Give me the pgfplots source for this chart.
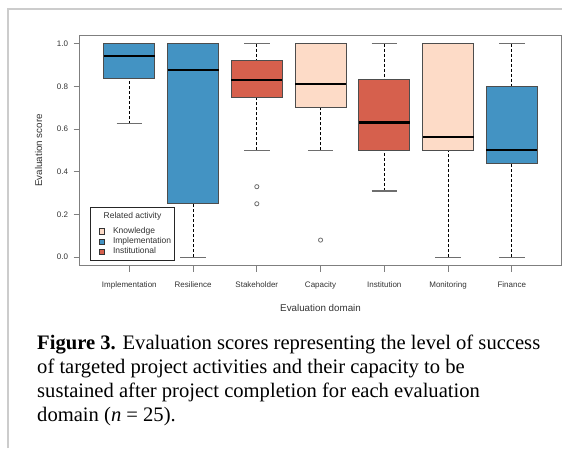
\documentclass[border=0pt]{standalone}
\usepackage{pgfplots}
\pgfplotsset{compat=1.18}
\usepgfplotslibrary{statistics}
\usepackage{fontspec}
\setmainfont{Liberation Serif}
\newfontfamily\arial{Liberation Sans}
\definecolor{peach}{HTML}{FDDBC7}
\definecolor{cblue}{HTML}{4393C3}
\definecolor{cred}{HTML}{D6604D}
\definecolor{boxedge}{HTML}{4D4D4D}
\definecolor{capgray}{HTML}{6E6E6E}
\definecolor{axgray}{HTML}{7F7F7F}
\definecolor{txtgray}{HTML}{333333}
\definecolor{framegray}{HTML}{CCCCCC}
\pgfplotsset{
  mybox/.style={
    forget plot,
    boxplot/draw direction=y,
    boxplot/box extend=0.8,
    boxplot/whisker extend=0.4,
    boxplot/every box/.style={draw=boxedge, line width=0.8pt, fill=#1},
    boxplot/every median/.style={draw=black, line width=2.2pt},
    boxplot/draw/lower whisker/.code={%
      \draw[black, line width=0.7pt, dash pattern=on 3pt off 2pt]
        (boxplot cs:\pgfplotsboxplotvalue{lower whisker}) -- (boxplot cs:\pgfplotsboxplotvalue{lower quartile});
      \draw[capgray, line width=1.2pt]
        (boxplot whisker cs:\pgfplotsboxplotvalue{lower whisker},0) -- (boxplot whisker cs:\pgfplotsboxplotvalue{lower whisker},1);
    },
    boxplot/draw/upper whisker/.code={%
      \draw[black, line width=0.7pt, dash pattern=on 3pt off 2pt]
        (boxplot cs:\pgfplotsboxplotvalue{upper whisker}) -- (boxplot cs:\pgfplotsboxplotvalue{upper quartile});
      \draw[capgray, line width=1.2pt]
        (boxplot whisker cs:\pgfplotsboxplotvalue{upper whisker},0) -- (boxplot whisker cs:\pgfplotsboxplotvalue{upper whisker},1);
    },
    mark=o, mark size=2.1pt,
    mark options={draw=capgray, line width=0.8pt, solid, fill=none},
  }
}
\newcommand{\lstrut}{\rule[-3pt]{0pt}{10.3pt}}
\begin{document}
\begin{tikzpicture}
\useasboundingbox (0,0) rectangle (562pt,-448pt);
\draw[framegray, line width=1.5pt] (8pt,-448pt) -- (8pt,-9pt) -- (562pt,-9pt);
\begin{axis}[
  at={(79.6pt,-265.7pt)}, anchor=south west,
  scale only axis, width=481.9pt, height=230.7pt,
  xmin=0.22, xmax=7.78, ymin=-0.04, ymax=1.04,
  axis line style={axgray, line width=0.8pt},
  tick style={axgray, line width=0.8pt},
  tick align=outside, major tick length=6pt,
  xtick pos=bottom, ytick pos=left,
  xtick={1,2,3,4,5,6,7},
  xticklabels={Implementation,Resilience,Stakeholder,Capacity,Institution,Monitoring,Finance},
  ytick={0,0.2,0.4,0.6,0.8,1.0},
  yticklabel style={/pgf/number format/.cd, fixed, fixed zerofill, precision=1, /tikz/xshift=-2pt},
  xticklabel style={yshift=-6pt},
  tick label style={font=\arial\fontsize{8}{9.6}\selectfont, text=txtgray, /pgf/number format/assume math mode=true},
  xlabel={Evaluation domain}, ylabel={Evaluation score},
  every axis x label/.style={at={(rel axis cs:0.5,0)}, yshift=-42pt, anchor=center, font=\arial\fontsize{9.8}{11.8}\selectfont, text=txtgray},
  every axis y label/.style={at={(rel axis cs:0,0.5)}, xshift=-41pt, rotate=90, anchor=center, font=\arial\fontsize{9.8}{11.8}\selectfont, text=txtgray},
  legend style={at={(rel axis cs:0.0208,0.253)}, anchor=north west,
    draw=black!85, line width=0.7pt, fill=white,
    font=\arial\fontsize{8.5}{10}\selectfont, text=txtgray,
    inner xsep=3.6pt, inner ysep=3.4pt, column sep=8.3pt, row sep=0pt,
    nodes={inner sep=0pt, text depth={}, text height={}}},
  legend cell align=left,
  legend image code/.code={\path (0pt,0pt); \draw[#1, draw=black!80, line width=0.6pt] (5.3pt,-2.6pt) rectangle (10.5pt,2.6pt);},
]
% Implementation
\addplot[mybox=cblue, boxplot prepared={draw position=1, lower whisker=0.625, lower quartile=0.835, median=0.94, upper quartile=1.0, upper whisker=1.0}] coordinates {};
% Resilience
\addplot[mybox=cblue, boxplot prepared={draw position=2, lower whisker=0.0, lower quartile=0.25, median=0.875, upper quartile=1.0, upper whisker=1.0}] coordinates {};
% Stakeholder
\addplot[mybox=cred, boxplot prepared={draw position=3, lower whisker=0.5, lower quartile=0.75, median=0.83, upper quartile=0.92, upper whisker=1.0}] table[row sep=\\, y index=0] {data\\ 0.33\\ 0.25\\};
% Capacity
\addplot[mybox=peach, boxplot prepared={draw position=4, lower whisker=0.5, lower quartile=0.70, median=0.81, upper quartile=1.0, upper whisker=1.0}] table[row sep=\\, y index=0] {data\\ 0.08\\};
% Institution
\addplot[mybox=cred, boxplot prepared={draw position=5, lower whisker=0.31, lower quartile=0.5, median=0.63, upper quartile=0.83, upper whisker=1.0}] coordinates {};
% Monitoring
\addplot[mybox=peach, boxplot prepared={draw position=6, lower whisker=0.0, lower quartile=0.5, median=0.5625, upper quartile=1.0, upper whisker=1.0}] coordinates {};
% Finance
\addplot[mybox=cblue, boxplot prepared={draw position=7, lower whisker=0.0, lower quartile=0.44, median=0.5, upper quartile=0.8, upper whisker=1.0}] coordinates {};
\addlegendimage{empty legend}
\addlegendentry{\hspace*{-9.3pt}Related activity\rule[-7.7pt]{0pt}{15pt}}
\addlegendimage{fill=peach}
\addlegendentry{Knowledge\lstrut}
\addlegendimage{fill=cblue}
\addlegendentry{Implementation\lstrut}
\addlegendimage{fill=cred}
\addlegendentry{Institutional\lstrut}
\end{axis}
\begin{scope}[every node/.style={anchor=base west, inner sep=0pt, font=\fontsize{20.6}{24}\selectfont}]
\node at (37pt,-349pt) {\textbf{Figure 3.} Evaluation scores representing the level of success};
\node at (37pt,-373pt) {of targeted project activities and their capacity to be};
\node at (37pt,-397pt) {sustained after project completion for each evaluation};
\node at (37pt,-421pt) {domain (\textit{n} = 25).};
\end{scope}
\end{tikzpicture}
\end{document}
